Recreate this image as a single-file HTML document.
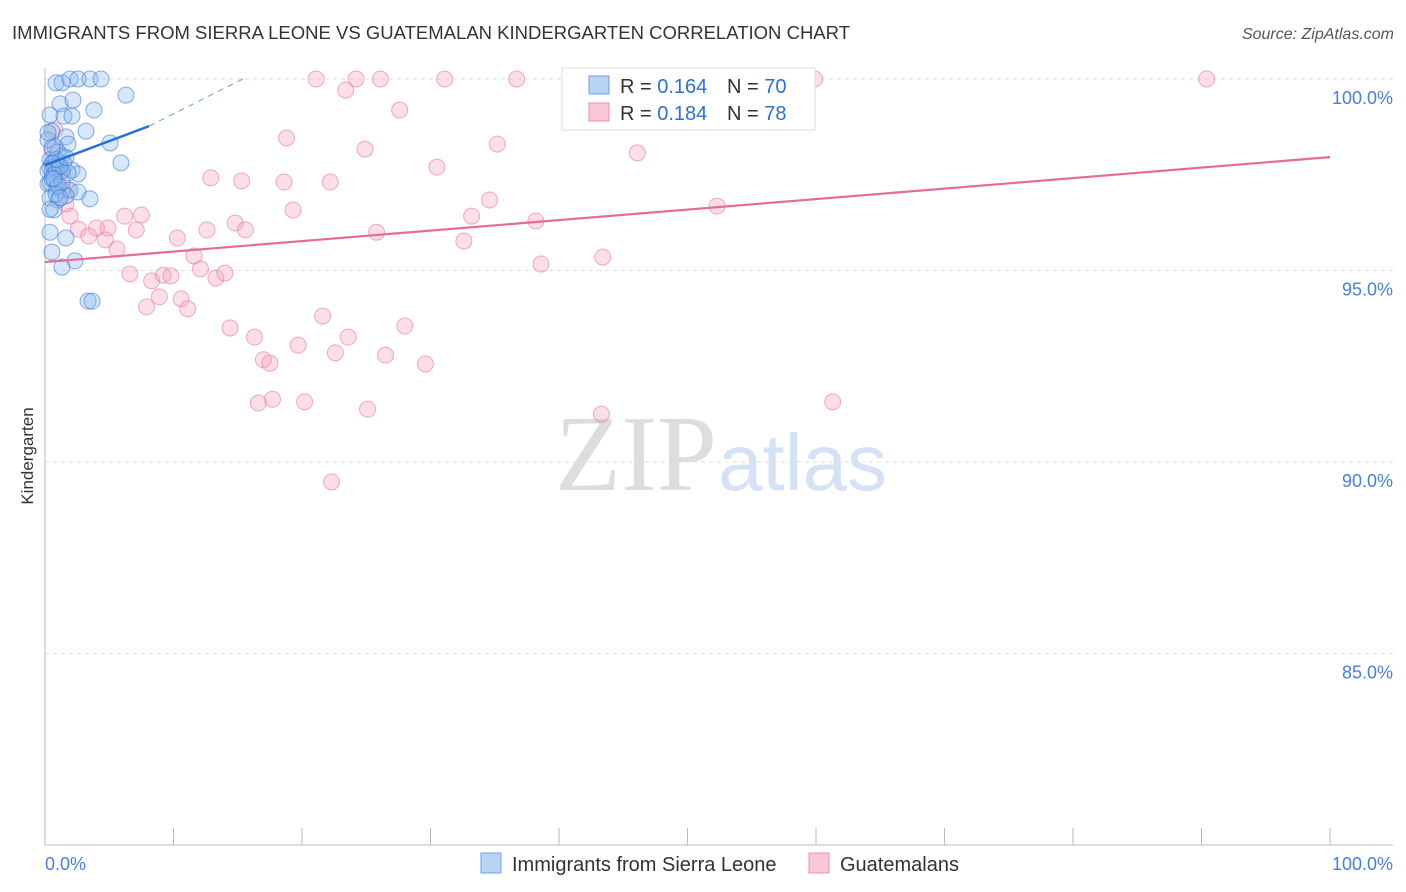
<!DOCTYPE html>
<html><head><meta charset="utf-8"><style>
body{margin:0;background:#fff;font-family:"Liberation Sans",sans-serif}
svg{display:block}
</style></head><body>
<svg id="c" width="1406" height="892" xmlns="http://www.w3.org/2000/svg">
<text x="12" y="39" font-size="18" fill="#333" textLength="838" lengthAdjust="spacingAndGlyphs">IMMIGRANTS FROM SIERRA LEONE VS GUATEMALAN KINDERGARTEN CORRELATION CHART</text>
<text x="1394" y="39" font-size="16" fill="#555" font-style="italic" text-anchor="end">Source: ZipAtlas.com</text>
<text x="555" y="490" font-size="108" fill="#ddd" font-family="Liberation Serif">ZIP</text>
<text x="718" y="490" font-size="80" fill="#d4e2f4">atlas</text>
<text transform="translate(33,456) rotate(-90)" font-size="17" fill="#333" text-anchor="middle">Kindergarten</text>
<g id="grid"></g><g id="pts"></g><g id="trend"></g>
<g>
<rect x="562" y="68" width="253" height="62" fill="#fff" stroke="#ddd"/>
<rect x="589" y="76" width="20" height="18" fill="#b9d3f5" stroke="#6f9ee0"/>
<rect x="589" y="103" width="20" height="18" fill="#f9c6d6" stroke="#ea92b0"/>
<text x="620" y="93" font-size="20" fill="#333">R = <tspan fill="#2e6fd1">0.164</tspan></text>
<text x="727" y="93" font-size="20" fill="#333">N = <tspan fill="#2e6fd1">70</tspan></text>
<text x="620" y="120" font-size="20" fill="#333">R = <tspan fill="#2e6fd1">0.184</tspan></text>
<text x="727" y="120" font-size="20" fill="#333">N = <tspan fill="#2e6fd1">78</tspan></text>
</g>
<g>
<rect x="481" y="853" width="20" height="20" fill="#b9d3f5" stroke="#6f9ee0"/>
<text x="512" y="871" font-size="20" fill="#333">Immigrants from Sierra Leone</text>
<rect x="809" y="853" width="20" height="20" fill="#f9c6d6" stroke="#ea92b0"/>
<text x="840" y="871" font-size="20" fill="#333">Guatemalans</text>
</g>
<text x="45" y="870" font-size="18" fill="#4a7fd4">0.0%</text>
<text x="1393" y="870" font-size="18" fill="#4a7fd4" text-anchor="end">100.0%</text>
</svg>
<script>
const yTicks=[100,95,90,85];
const yTickLabels=["100.0%","95.0%","90.0%","85.0%"];
const xTicks=[0,10,20,30,40,50,60,70,80,90,100];
const blueX=[0.86,1.32,1.95,2.57,3.5,4.36,6.3,1.17,2.18,3.81,0.39,1.48,2.1,3.19,0.54,1.63,1.79,5.06,0.78,5.91,0.39,1.01,1.48,2.1,2.57,0.54,1.17,0.23,0.86,1.32,1.95,2.57,3.5,0.39,1.01,1.63,0.7,0.39,1.63,0.54,2.33,1.32,3.35,3.66,0.7,0.39,1.32,1.01,0.23,0.7,1.01,1.32,0.86,0.54,1.79,0.23,0.7,1.17,0.39,0.54,1.01,1.32,0.86,1.63,0.23,0.54,0.86,1.17,0.39,0.7];
const blueY=[99.9,99.9,100,100,100,100,99.58,99.35,99.45,99.19,99.06,99.03,99.03,98.64,98.64,98.49,98.3,98.33,98.22,97.81,97.89,97.81,97.81,97.62,97.52,97.57,97.57,97.26,97.15,97.1,97.1,97.05,96.87,96.89,96.84,96.95,96.58,96.0,95.85,95.48,95.25,95.09,94.2,94.2,97.83,97.68,97.99,98.09,98.41,97.7,97.75,97.6,97.65,97.8,97.55,97.6,97.5,97.72,97.3,97.4,97.2,97.3,97.9,97.95,98.6,98.2,97.0,96.9,96.6,97.4];
const pinkX=[21.1,24.2,26.1,31.1,36.7,58.8,59.9,90.4,23.4,27.6,18.8,35.2,24.9,46.1,30.5,12.9,15.3,18.6,22.2,34.6,19.3,33.2,52.3,38.2,6.2,7.5,4.9,4.0,7.1,2.6,14.8,15.6,12.6,10.3,3.4,4.7,5.6,25.8,32.6,11.6,38.6,43.4,6.6,8.3,9.2,9.8,12.1,13.3,14.0,7.9,8.9,10.6,11.1,14.4,16.3,19.7,21.6,23.6,28.0,22.6,26.5,29.6,17.0,17.5,16.6,17.7,20.2,25.1,43.3,61.3,22.3,1.95,1.63,1.01,0.54,0.78,1.32,1.79];
const pinkY=[100,100,100,100,100,100,100,100,99.71,99.19,98.46,98.3,98.17,98.07,97.7,97.42,97.34,97.31,97.31,96.84,96.58,96.42,96.68,96.29,96.42,96.45,96.11,96.11,96.06,96.08,96.24,96.06,96.06,95.85,95.9,95.8,95.56,96.0,95.77,95.38,95.17,95.35,94.91,94.73,94.88,94.86,95.04,94.8,94.93,94.05,94.31,94.26,94.0,93.5,93.26,93.05,93.81,93.26,93.55,92.85,92.79,92.56,92.67,92.58,91.54,91.64,91.57,91.38,91.25,91.57,89.48,96.42,96.74,97.23,98.15,98.67,97.62,97.1];
const blueTrendX=[0,8.1,15.4];
const blueTrendY=[97.75,98.77,100];
const pinkTrendX=[0,100];
const pinkTrendY=[95.22,97.96];
const X=v=>45+v*12.85, Y=v=>79+(100-v)*38.3;
const NS="http://www.w3.org/2000/svg";
function mk(p,t,a){const e=document.createElementNS(NS,t);for(const k in a)e.setAttribute(k,a[k]);p.appendChild(e);return e;}
const grid=document.getElementById('grid');
yTicks.forEach((t,i)=>{
 const l=mk(grid,'line',{x1:45,x2:1393,y1:Y(t),y2:Y(t),stroke:'#ddd','stroke-dasharray':'4,4'});
 
 
 const tx=mk(grid,'text',{x:1393,y:Y(t)+25,'font-size':18,fill:'#4a7fd4','text-anchor':'end'});
 tx.textContent=yTickLabels[i];
 
 
});
const ax=mk(grid,'line',{x1:45,x2:45,y1:68,y2:845,stroke:'#bbb'});


const bx=mk(grid,'line',{x1:45,x2:1393,y1:845,y2:845,stroke:'#bbb'});


xTicks.forEach(t=>{const l=mk(grid,'line',{x1:X(t),x2:X(t),y1:828,y2:845,stroke:'#bbb'});
 
 });
const pts=document.getElementById('pts');
pinkX.forEach((x,i)=>{const c=mk(pts,'circle',{cx:X(x),cy:Y(pinkY[i]),r:8,fill:'rgba(244,160,190,0.35)',stroke:'rgba(230,120,160,0.6)'});
 
 });
blueX.forEach((x,i)=>{const c=mk(pts,'circle',{cx:X(x),cy:Y(blueY[i]),r:8,fill:'rgba(140,185,240,0.35)',stroke:'rgba(60,120,210,0.6)'});
 
 });
const tr=document.getElementById('trend');
const pl=mk(tr,'line',{x1:X(pinkTrendX[0]),y1:Y(pinkTrendY[0]),x2:X(pinkTrendX[1]),y2:Y(pinkTrendY[1]),stroke:'#e56a98','stroke-width':2.2});


const bl=mk(tr,'line',{x1:X(blueTrendX[0]),y1:Y(blueTrendY[0]),x2:X(blueTrendX[1]),y2:Y(blueTrendY[1]),stroke:'#2a6fd6','stroke-width':2.5});


const bd=mk(tr,'line',{x1:X(blueTrendX[1]),y1:Y(blueTrendY[1]),x2:X(blueTrendX[2]),y2:Y(blueTrendY[2]),stroke:'#6f9ee0','stroke-width':1,'stroke-dasharray':'6,5'});


</script>
</body></html>
